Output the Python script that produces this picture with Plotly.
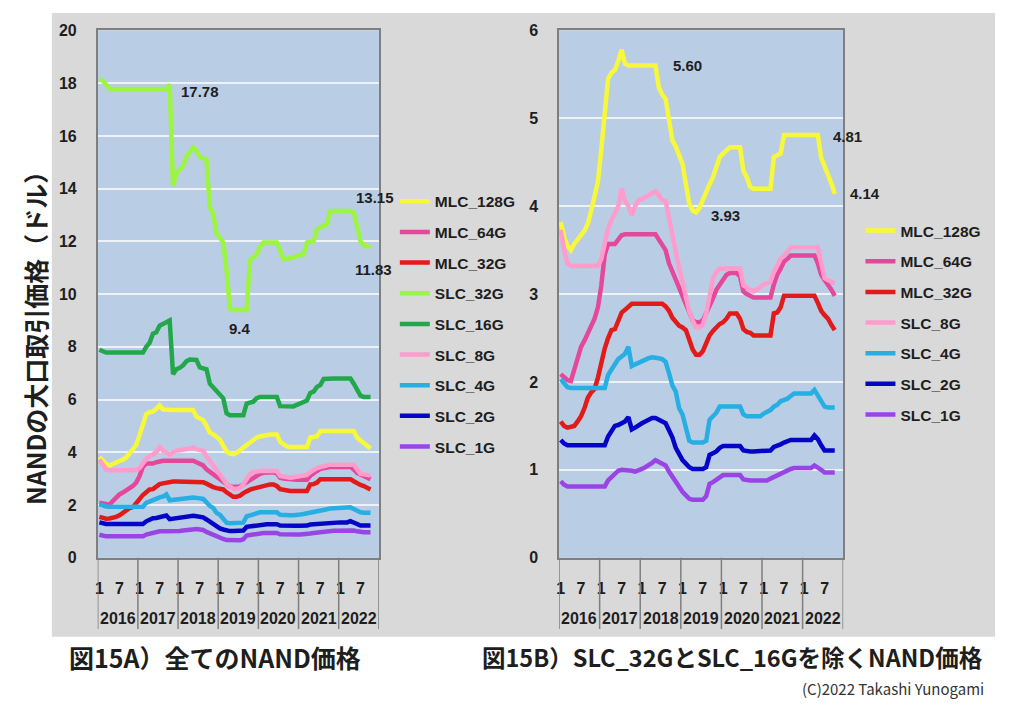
import plotly.graph_objects as go

W, H = 1011, 720

# ---------------- data (monthly, Jan 2016 .. Oct 2022) ----------------
month_index = list(range(82))
year_labels = ["2016", "2017", "2018", "2019", "2020", "2021", "2022"]
month_tick_vals = [m for y in range(7) for m in (12 * y, 12 * y + 6)]
month_tick_text = ["1", "7"] * 7

mlc_128g = [3.82, 3.65, 3.55, 3.50, 3.57, 3.63, 3.67, 3.72, 3.80, 3.95, 4.10, 4.28,
            4.65, 5.05, 5.45, 5.52, 5.55, 5.65, 5.78, 5.62, 5.60, 5.60, 5.60, 5.60,
            5.60, 5.60, 5.60, 5.60, 5.60, 5.35, 5.27, 5.22, 5.00, 4.75, 4.68, 4.58,
            4.48, 4.25, 4.03, 3.95, 3.93, 3.98, 4.08, 4.15, 4.25, 4.33, 4.45, 4.56,
            4.60, 4.63, 4.67, 4.67, 4.67, 4.67, 4.40, 4.33, 4.22, 4.20, 4.20, 4.20,
            4.20, 4.20, 4.20, 4.56, 4.58, 4.60, 4.81, 4.81, 4.81, 4.81, 4.81, 4.81,
            4.81, 4.81, 4.81, 4.81, 4.81, 4.55, 4.45, 4.38, 4.26, 4.14]
mlc_64g = [2.09, 2.05, 2.02, 2.01, 2.15, 2.28, 2.40, 2.47, 2.55, 2.62, 2.72, 2.85,
           3.10, 3.45, 3.57, 3.57, 3.57, 3.62, 3.67, 3.68, 3.68, 3.68, 3.68, 3.68,
           3.68, 3.68, 3.68, 3.68, 3.68, 3.62, 3.56, 3.50, 3.35, 3.26, 3.15, 3.05,
           2.96, 2.88, 2.78, 2.70, 2.68, 2.68, 2.70, 2.78, 2.86, 2.95, 3.05, 3.11,
           3.18, 3.22, 3.24, 3.24, 3.24, 3.20, 3.03, 3.00, 2.98, 2.96, 2.96, 2.96,
           2.96, 2.96, 2.96, 3.11, 3.22, 3.29, 3.37, 3.40, 3.44, 3.44, 3.44, 3.44,
           3.44, 3.44, 3.44, 3.44, 3.35, 3.22, 3.16, 3.11, 3.05, 2.98]
mlc_32g = [1.55, 1.50, 1.48, 1.49, 1.50, 1.55, 1.61, 1.70, 1.82, 1.88, 1.92, 2.05,
           2.22, 2.38, 2.50, 2.59, 2.60, 2.70, 2.79, 2.82, 2.85, 2.89, 2.89, 2.89,
           2.89, 2.89, 2.89, 2.89, 2.89, 2.89, 2.89, 2.86, 2.81, 2.73, 2.68, 2.64,
           2.62, 2.59, 2.48, 2.37, 2.31, 2.31, 2.35, 2.45, 2.53, 2.58, 2.62, 2.66,
           2.68, 2.72, 2.78, 2.78, 2.78, 2.72, 2.60, 2.57, 2.56, 2.53, 2.53, 2.53,
           2.53, 2.53, 2.53, 2.78, 2.79, 2.85, 2.98, 2.98, 2.98, 2.98, 2.98, 2.98,
           2.98, 2.98, 2.98, 2.98, 2.90, 2.81, 2.76, 2.72, 2.65, 2.59]
slc_32g = [18.15, 18.10, 17.95, 17.78, 17.78, 17.78, 17.78, 17.78, 17.78, 17.78, 17.78, 17.78,
           17.78, 17.78, 17.78, 17.78, 17.78, 17.78, 17.78, 17.78, 17.78, 17.95, 14.10, 14.60,
           14.75, 14.85, 15.20, 15.40, 15.55, 15.45, 15.20, 15.15, 15.10, 13.30, 13.05, 12.30,
           12.10, 11.96, 10.90, 9.45, 9.40, 9.40, 9.40, 9.40, 9.40, 11.30, 11.40, 11.50,
           11.80, 11.96, 11.96, 11.96, 11.96, 11.96, 11.66, 11.33, 11.33, 11.35, 11.40, 11.45,
           11.48, 11.50, 11.96, 11.98, 12.00, 12.45, 12.55, 12.60, 12.65, 13.15, 13.15, 13.15,
           13.15, 13.15, 13.15, 13.15, 13.10, 12.60, 12.00, 11.85, 11.80, 11.83]
slc_16g = [7.89, 7.82, 7.78, 7.78, 7.78, 7.78, 7.78, 7.78, 7.78, 7.78, 7.78, 7.78,
           7.78, 7.78, 8.00, 8.15, 8.50, 8.55, 8.80, 8.85, 8.93, 9.00, 6.96, 7.15,
           7.20, 7.30, 7.45, 7.52, 7.52, 7.50, 7.22, 7.18, 7.15, 6.60, 6.45, 6.35,
           6.15, 6.05, 5.48, 5.40, 5.40, 5.40, 5.40, 5.40, 5.85, 5.88, 5.92, 6.05,
           6.10, 6.10, 6.10, 6.10, 6.10, 6.10, 5.75, 5.74, 5.74, 5.74, 5.74, 5.80,
           5.85, 5.90, 5.96, 6.25, 6.30, 6.48, 6.55, 6.78, 6.80, 6.80, 6.80, 6.80,
           6.80, 6.80, 6.80, 6.80, 6.60, 6.40, 6.15, 6.10, 6.10, 6.10]
slc_8g = [3.73, 3.50, 3.35, 3.32, 3.32, 3.32, 3.32, 3.32, 3.32, 3.32, 3.32, 3.32,
          3.40, 3.60, 3.75, 3.84, 3.92, 4.00, 4.20, 4.06, 4.00, 3.90, 4.00, 4.07,
          4.08, 4.10, 4.12, 4.15, 4.17, 4.12, 4.07, 4.06, 3.85, 3.67, 3.48, 3.30,
          3.14, 2.95, 2.80, 2.70, 2.62, 2.62, 2.65, 2.78, 3.00, 3.18, 3.25, 3.29,
          3.29, 3.29, 3.29, 3.29, 3.29, 3.29, 3.10, 3.07, 3.05, 3.03, 3.05, 3.08,
          3.11, 3.12, 3.14, 3.25, 3.33, 3.40, 3.44, 3.48, 3.53, 3.53, 3.53, 3.53,
          3.53, 3.53, 3.53, 3.53, 3.53, 3.35, 3.18, 3.16, 3.14, 3.12]
slc_4g = [2.03, 1.98, 1.94, 1.93, 1.93, 1.93, 1.93, 1.93, 1.93, 1.93, 1.93, 1.93,
          1.93, 1.93, 2.08, 2.14, 2.18, 2.26, 2.29, 2.32, 2.40, 2.18, 2.20, 2.22,
          2.24, 2.26, 2.27, 2.28, 2.28, 2.27, 2.26, 2.23, 2.10, 1.96, 1.89, 1.70,
          1.63, 1.45, 1.33, 1.31, 1.31, 1.31, 1.31, 1.33, 1.57, 1.61, 1.65, 1.72,
          1.72, 1.72, 1.72, 1.72, 1.72, 1.72, 1.63, 1.61, 1.61, 1.61, 1.61, 1.61,
          1.64, 1.66, 1.68, 1.72, 1.74, 1.78, 1.79, 1.81, 1.84, 1.87, 1.87, 1.87,
          1.87, 1.87, 1.87, 1.91, 1.85, 1.77, 1.72, 1.71, 1.71, 1.71]
slc_2g = [1.34, 1.30, 1.28, 1.28, 1.28, 1.28, 1.28, 1.28, 1.28, 1.28, 1.28, 1.28,
          1.28, 1.28, 1.38, 1.45, 1.50, 1.51, 1.53, 1.55, 1.60, 1.46, 1.48, 1.51,
          1.53, 1.55, 1.57, 1.59, 1.59, 1.57, 1.55, 1.53, 1.45, 1.37, 1.25, 1.18,
          1.11, 1.07, 1.03, 1.01, 1.01, 1.01, 1.01, 1.03, 1.17, 1.19, 1.21, 1.25,
          1.27, 1.27, 1.27, 1.27, 1.27, 1.27, 1.22, 1.21, 1.21, 1.21, 1.21, 1.21,
          1.21, 1.21, 1.22, 1.26, 1.27, 1.29, 1.31, 1.33, 1.34, 1.34, 1.34, 1.34,
          1.34, 1.34, 1.34, 1.39, 1.35, 1.28, 1.22, 1.22, 1.22, 1.22]
slc_1g = [0.87, 0.83, 0.81, 0.81, 0.81, 0.81, 0.81, 0.81, 0.81, 0.81, 0.81, 0.81,
          0.81, 0.81, 0.88, 0.92, 0.95, 0.99, 1.00, 1.00, 1.00, 0.99, 0.98, 0.99,
          1.01, 1.03, 1.05, 1.08, 1.11, 1.09, 1.07, 1.05, 0.98, 0.92, 0.86, 0.80,
          0.75, 0.71, 0.67, 0.66, 0.66, 0.66, 0.66, 0.70, 0.84, 0.86, 0.89, 0.92,
          0.94, 0.94, 0.94, 0.94, 0.94, 0.94, 0.89, 0.88, 0.88, 0.88, 0.88, 0.88,
          0.88, 0.88, 0.90, 0.92, 0.94, 0.96, 0.98, 1.00, 1.01, 1.02, 1.02, 1.02,
          1.02, 1.02, 1.02, 1.05, 1.03, 1.00, 0.97, 0.97, 0.97, 0.97]

series = {
    "MLC_128G": mlc_128g, "MLC_64G": mlc_64g, "MLC_32G": mlc_32g,
    "SLC_32G": slc_32g, "SLC_16G": slc_16g, "SLC_8G": slc_8g,
    "SLC_4G": slc_4g, "SLC_2G": slc_2g, "SLC_1G": slc_1g,
}
names_a = ["MLC_128G", "MLC_64G", "MLC_32G", "SLC_32G", "SLC_16G",
           "SLC_8G", "SLC_4G", "SLC_2G", "SLC_1G"]
names_b = ["MLC_128G", "MLC_64G", "MLC_32G", "SLC_8G", "SLC_4G", "SLC_2G", "SLC_1G"]

# ---------------- styles ----------------
colors = {
    "MLC_128G": "#F8F83A", "MLC_64G": "#E5489A", "MLC_32G": "#E21A1A",
    "SLC_32G": "#9CF53E", "SLC_16G": "#22A84A", "SLC_8G": "#FF9CCC",
    "SLC_4G": "#27AEE2", "SLC_2G": "#0505C8", "SLC_1G": "#9B44E6",
}
TXT = "#1E1E1E"
LAT = "Liberation Sans"
JP = "Noto Sans CJK JP"
PLOT_BG = "#B9CDE5"
PANEL_BG = "#D9D9D9"
BORDER = "#7F7F7F"

def fx(p):
    return p / W

def fy(p):
    return 1 - p / H

fig = go.Figure()
for nm in names_a:
    fig.add_trace(go.Scatter(x=month_index, y=series[nm], mode="lines", name=nm,
                             line=dict(color=colors[nm], width=4.5),
                             xaxis="x", yaxis="y", legend="legend",
                             legendgroup="A_" + nm))
for nm in names_b:
    fig.add_trace(go.Scatter(x=month_index, y=series[nm], mode="lines", name=nm,
                             line=dict(color=colors[nm], width=4.5),
                             xaxis="x2", yaxis="y2", legend="legend2",
                             legendgroup="B_" + nm))

tickfont = dict(family=LAT, size=16, color=TXT, weight="bold")
xcommon = dict(range=[-0.5, 83.5], tickmode="array", tickvals=month_tick_vals,
               ticktext=month_tick_text, showgrid=False, zeroline=False,
               showline=True, linecolor=BORDER, linewidth=1.5, mirror=True,
               ticks="", tickfont=tickfont, ticklabelstandoff=15)
ycommon = dict(showgrid=True, gridcolor="#EEF2F8", gridwidth=1.5, zeroline=False,
               showline=True, linecolor=BORDER, linewidth=1.5, mirror=True,
               ticks="", tickfont=tickfont, ticklabelstandoff=16, tick0=0)
ydom = [fy(563), fy(23)]

shapes = [dict(type="rect", xref="paper", yref="paper", x0=fx(49), x1=fx(995),
               y0=fy(644), y1=fy(5), fillcolor=PANEL_BG, line=dict(width=0),
               layer="below")]
for xa, ya in (("x", "y"), ("x2", "y2")):
    shapes.append(dict(type="rect", xref=xa + " domain", yref=ya + " domain",
                       x0=0, x1=1, y0=0, y1=1, fillcolor=PLOT_BG,
                       line=dict(width=0), layer="below"))
    for k in range(8):
        shapes.append(dict(type="line", xref=xa, yref="paper",
                           x0=12 * k - 0.5, x1=12 * k - 0.5, y0=fy(563), y1=fy(636),
                           line=dict(color=BORDER, width=1.5)))

ann = []
for xa in ("x", "x2"):
    for k, yl in enumerate(year_labels):
        ann.append(dict(text=yl, xref=xa, yref="paper", x=12 * k + 5.5, y=fy(625),
                        showarrow=False, font=tickfont, xanchor="center", yanchor="middle"))

labfont = dict(family=LAT, size=15, color=TXT, weight="bold")

def vlabel(xa, ya, i, vals, text, xanchor, yanchor, xs, ys):
    ann.append(dict(text=text, xref=xa, yref=ya, x=month_index[i], y=vals[i],
                    showarrow=False, font=labfont, xanchor=xanchor, yanchor=yanchor,
                    xshift=xs, yshift=ys))

vlabel("x", "y", 21, slc_32g, "17.78", "left", "middle", 9, -7)
vlabel("x", "y", 42, slc_32g, "9.4", "center", "top", 0, -8)
vlabel("x", "y", 75, slc_32g, "13.15", "left", "middle", 4, 14)
vlabel("x", "y", 81, slc_32g, "11.83", "center", "top", 3, -13)
vlabel("x2", "y2", 28, mlc_128g, "5.60", "left", "middle", 16, 0)
vlabel("x2", "y2", 40, mlc_128g, "3.93", "left", "middle", 13, -3)
vlabel("x2", "y2", 76, mlc_128g, "4.81", "left", "middle", 13, -1)
vlabel("x2", "y2", 81, mlc_128g, "4.14", "left", "middle", 13, 0)

ann.append(dict(text="NANDの大口取引価格（ドル）", xref="paper", yref="paper",
                x=fx(32), y=fy(332), textangle=-90, showarrow=False,
                font=dict(family=JP, size=25, color=TXT, weight="bold"),
                xanchor="center", yanchor="middle"))
ann.append(dict(text="図15A）全てのNAND価格", xref="paper", yref="paper",
                x=fx(64), y=fy(665), showarrow=False,
                font=dict(family=JP, size=25, color=TXT, weight="bold"),
                xanchor="left", yanchor="middle"))
ann.append(dict(text="図15B）SLC_32GとSLC_16Gを除くNAND価格", xref="paper", yref="paper",
                x=fx(478), y=fy(665), showarrow=False,
                font=dict(family=JP, size=23.5, color=TXT, weight="bold"),
                xanchor="left", yanchor="middle"))
ann.append(dict(text="(C)2022 Takashi Yunogami", xref="paper", yref="paper",
                x=fx(986), y=fy(697), showarrow=False,
                font=dict(family=JP, size=15, color="#333333"),
                xanchor="right", yanchor="middle"))

legfont = dict(family=LAT, size=15.5, color=TXT, weight="bold")
fig.update_layout(
    width=W, height=H, margin=dict(l=0, r=0, t=0, b=0),
    paper_bgcolor="white", plot_bgcolor="rgba(0,0,0,0)",
    xaxis=dict(domain=[fx(95), fx(377)], anchor="y", **xcommon),
    yaxis=dict(domain=ydom, anchor="x", range=[0, 20], dtick=2, **ycommon),
    xaxis2=dict(domain=[fx(557.7), fx(842.7)], anchor="y2", **xcommon),
    yaxis2=dict(domain=ydom, anchor="x2", range=[0, 6], dtick=1, **ycommon),
    legend=dict(x=fx(393), y=fy(181), xanchor="left", yanchor="top",
                bgcolor="rgba(0,0,0,0)", font=legfont, traceorder="grouped",
                tracegroupgap=7.5, itemwidth=30),
    legend2=dict(x=fx(860), y=fy(211), xanchor="left", yanchor="top",
                 bgcolor="rgba(0,0,0,0)", font=legfont, traceorder="grouped",
                 tracegroupgap=7.5, itemwidth=30),
    shapes=shapes, annotations=ann, showlegend=True,
)

pin_js = (
    "document.documentElement.style.margin='0';"
    "document.documentElement.style.padding='0';"
    "document.body.style.margin='0';document.body.style.padding='0';"
    "document.body.style.overflow='hidden';"
    "var d=document.getElementById('{plot_id}');"
    "d.style.position='fixed';d.style.left='0px';d.style.top='0px';"
)
fig.write_html("out.html", post_script=pin_js)
